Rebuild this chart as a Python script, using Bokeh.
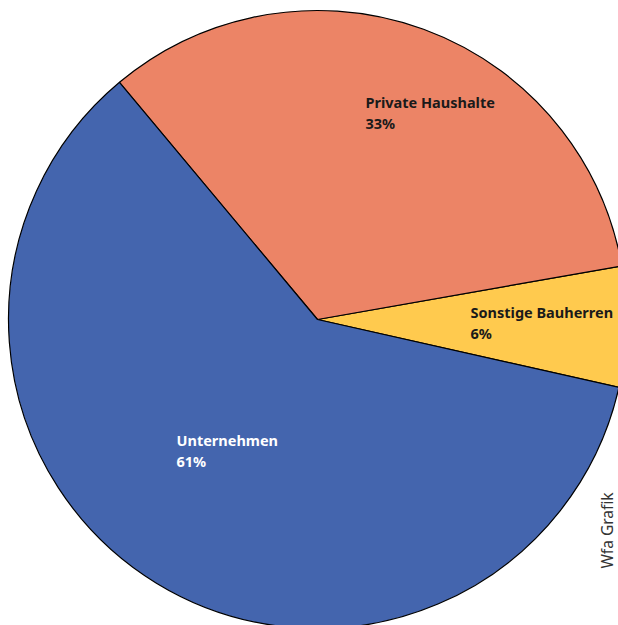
import math
from bokeh.plotting import figure
from bokeh.models import Range1d, ColumnDataSource
from bokeh.core.properties import value
from bokeh.embed import file_html
from bokeh.resources import INLINE

# ---- data ----
categories = ["Sonstige Bauherren", "Private Haushalte", "Unternehmen"]
shares = [6.3, 33.3, 60.4]
share_labels = ["6%", "33%", "61%"]
colors = ["#FFCA4E", "#EC8466", "#4465AE"]
label_colors = ["#1a1a1a", "#1a1a1a", "#ffffff"]
credit = "Wfa Grafik"

# ---- layout ----
W, H = 618, 625
R = 309.0
cx_px, cy_px = 317, 319
start_deg = -12.7
# label anchors (top-left of text block) relative to pie centre, in px
label_pos = [(153, 18), (48, 228), (-141, -110)]
line_gap = 21

total = sum(shares)
starts, ends = [], []
a = math.radians(start_deg)
for s in shares:
    starts.append(a)
    a += 2 * math.pi * s / total
    ends.append(a)

src = ColumnDataSource(dict(cat=categories, share=shares, start=starts, end=ends, color=colors))

p = figure(width=W, height=H, output_backend="svg", toolbar_location=None,
           x_range=Range1d(-cx_px, W - cx_px), y_range=Range1d(-(H - cy_px), cy_px),
           min_border=0, background_fill_color="white", border_fill_color="white")
p.axis.visible = False
p.grid.visible = False
p.outline_line_color = None

p.wedge(x=0, y=0, radius=R, start_angle="start", end_angle="end", direction="anticlock",
        fill_color="color", line_color="black", line_width=1.2, source=src)

xs = [lp[0] for lp in label_pos]
ys = [lp[1] for lp in label_pos]
common = dict(text_color=label_colors, text_font=value("Noto Sans"), text_font_style="bold",
              text_font_size="14.5px", text_align="left", text_baseline="top")
p.text(x=xs, y=ys, text=categories, **common)
p.text(x=xs, y=[y - line_gap for y in ys], text=share_labels, **common)

p.text(x=[289], y=[-211], text=[credit], angle=math.pi / 2, text_color="#333333",
       text_font=value("Noto Sans"), text_font_size="15.5px", text_align="center",
       text_baseline="middle")

open("out.html", "w").write(file_html(p, INLINE))
